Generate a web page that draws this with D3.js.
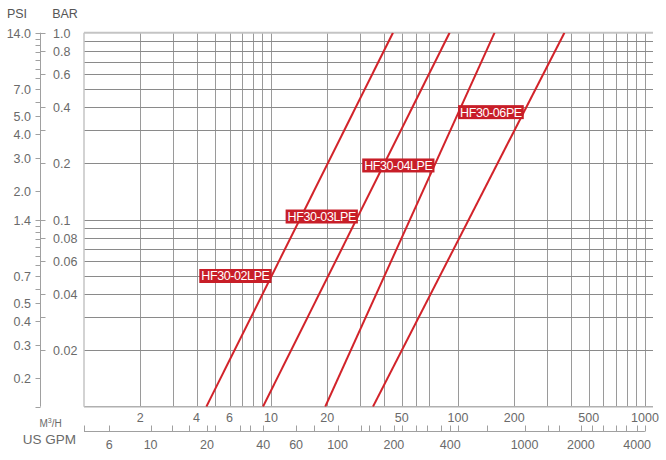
<!DOCTYPE html>
<html><head><meta charset="utf-8">
<script src="https://cdn.jsdelivr.net/npm/d3@7"></script>
<style>body{margin:0;background:#fff}svg{display:block}text{font-family:"Liberation Sans",Arial,sans-serif}</style>
</head><body>
<svg id="c" width="666" height="460"></svg>
<script>
// ---- data ----
const models = ["HF30-02LPE", "HF30-03LPE", "HF30-04LPE", "HF30-06PE"];
const flowAtLowBar = [4.51, 9.06, 19.5, 35.1];     // m3/h at 0.01 bar
const flowAtHighBar = [44.9, 90.2, 157, 371];      // m3/h at 1.0 bar
const lowBar = 0.01, highBar = 1.0;
const labelBar = [0.05, 0.104, 0.195, 0.376];      // pressure where label sits
const m3hGrid = [2,3,4,5,6,7,8,9,10,20,30,40,50,60,70,100,200,300,400,500,600,700,800,900,1000];
const m3hLabels = [2,4,6,10,20,50,100,200,500,1000];
const barGrid = [0.02,0.03,0.04,0.05,0.06,0.07,0.08,0.09,0.1,0.2,0.3,0.4,0.5,0.6,0.7,0.8,0.9];
const barLabels = [1.0,0.8,0.6,0.4,0.2,0.1,0.08,0.06,0.04,0.02];
const barLabelText = ["1.0","0.8","0.6","0.4","0.2","0.1","0.08","0.06","0.04","0.02"];
const barMinor = [0.3,0.03];
const psiLabels = [14,7,5,4,3,2,1.4,0.7,0.5,0.4,0.3,0.2];
const psiLabelText = ["14.0","7.0","5.0","4.0","3.0","2.0","1.4","0.7","0.5","0.4","0.3","0.2"];
const psiMinor = [13,12,11,10,9,8,6,1.3,1.2,1.1,1.0,0.9,0.8,0.6,0.14];
const gpmLabels = [6,10,20,40,60,100,200,400,1000,2000,4000];
const gpmMinor = [4.4,13,16,22,30,34,75,133,147,169,222,261,302,356,442,626,1326,1533,2306,2633,3080,3500,4400];
const gpmPerM3h = 4.403;

// ---- scales ----
const X0 = 84, X1 = 653, Y0 = 406.7, Y1 = 32.7;
const xMax = 1104;
const x = d3.scaleLog().domain([1, xMax]).range([X0, X1]);
const y = d3.scaleLog().domain([0.01, 1]).range([Y0, Y1]);
const psi = d3.scaleLog().domain([0.14, 14]).range([Y0, Y1]);
const gpm = d3.scaleLog().domain([gpmPerM3h, gpmPerM3h * xMax]).range([X0, X1]);

const svg = d3.select("#c");
const txt = "#6a6a6a";

// grid
const g = svg.append("g");
g.selectAll(".vg").data(m3hGrid).join("line")
  .attr("x1", d => Math.round(x(d)) + 0.5).attr("x2", d => Math.round(x(d)) + 0.5)
  .attr("y1", Y1).attr("y2", Y0).attr("stroke", "#9a9a9a").attr("stroke-width", 1);
g.selectAll(".hg").data(barGrid).join("line")
  .attr("x1", X0).attr("x2", X1)
  .attr("y1", d => Math.round(y(d)) + 0.5).attr("y2", d => Math.round(y(d)) + 0.5)
  .attr("stroke", "#8a8a8a").attr("stroke-width", 1);
// borders
g.append("line").attr("x1", X0).attr("x2", X1).attr("y1", Y1).attr("y2", Y1).attr("stroke", "#c4c4c4").attr("stroke-width", 2);
g.append("line").attr("x1", X0).attr("x2", X1).attr("y1", Y0).attr("y2", Y0).attr("stroke", "#b0b0b0").attr("stroke-width", 1.5);
g.append("line").attr("x1", X0).attr("x2", X0).attr("y1", Y1).attr("y2", Y0).attr("stroke", "#c4c4c4").attr("stroke-width", 1.5);

// curves
const lineGen = d3.line().x(d => x(d[0])).y(d => y(d[1]));
svg.append("clipPath").attr("id", "pc").append("rect")
  .attr("x", X0).attr("y", Y1).attr("width", X1 - X0).attr("height", Y0 - Y1);
const red = "#d2232a";
models.forEach((m, i) => {
  const pts = [[flowAtLowBar[i], lowBar], [flowAtHighBar[i], highBar]];
  svg.append("path").attr("d", lineGen(pts)).attr("fill", "none")
    .attr("stroke", red).attr("stroke-width", 2).attr("clip-path", "url(#pc)");
});
// labels
models.forEach((m, i) => {
  const k = Math.log(labelBar[i] / lowBar) / Math.log(highBar / lowBar);
  const q = Math.exp(Math.log(flowAtLowBar[i]) + k * (Math.log(flowAtHighBar[i]) - Math.log(flowAtLowBar[i])));
  const lx = x(q), ly = y(labelBar[i]);
  const gg = svg.append("g");
  const t = gg.append("text").text(m).attr("font-size", 12.5).attr("letter-spacing", "-0.4")
    .attr("fill", "#fff").attr("dominant-baseline", "central");
  const w = t.node().getComputedTextLength();
  gg.insert("rect", "text").attr("x", lx - w - 4).attr("y", ly - 7).attr("width", w + 4).attr("height", 14).attr("fill", "#c81e28");
  t.attr("x", lx - w - 2).attr("y", ly + 0.5);
});

// left axes
const AX = 40.5;
svg.append("line").attr("x1", AX).attr("x2", AX).attr("y1", Y1).attr("y2", Y0).attr("stroke", "#a0a0a0");
svg.selectAll(".pt").data(psiLabels.concat(psiMinor)).join("line")
  .attr("x1", AX - 5).attr("x2", AX).attr("y1", d => Math.round(psi(d)) + 0.5).attr("y2", d => Math.round(psi(d)) + 0.5)
  .attr("stroke", "#a0a0a0");
svg.selectAll(".bt").data(barLabels.concat(barMinor)).join("line")
  .attr("x1", AX).attr("x2", AX + 5).attr("y1", d => Math.round(y(d)) + 0.5).attr("y2", d => Math.round(y(d)) + 0.5)
  .attr("stroke", "#a0a0a0");
svg.selectAll(".pl").data(psiLabels).join("text")
  .attr("x", 31).attr("y", d => psi(d) + 1).attr("text-anchor", "end").attr("dominant-baseline", "central")
  .attr("font-size", 12.5).attr("fill", txt).text((d, i) => psiLabelText[i]);
svg.selectAll(".bl").data(barLabels).join("text")
  .attr("x", 53).attr("y", d => y(d) + 1).attr("text-anchor", "start").attr("dominant-baseline", "central")
  .attr("font-size", 12.5).attr("fill", txt).text((d, i) => barLabelText[i]);
svg.append("text").attr("x", 17).attr("y", 14).attr("text-anchor", "middle").attr("dominant-baseline", "central")
  .attr("font-size", 12.5).attr("fill", "#555").text("PSI");
svg.append("text").attr("x", 65).attr("y", 14).attr("text-anchor", "middle").attr("dominant-baseline", "central")
  .attr("font-size", 12.5).attr("fill", "#555").text("BAR");

// bottom axes
svg.selectAll(".ml").data(m3hLabels).join("text")
  .attr("x", d => x(d)).attr("y", 418).attr("text-anchor", "middle").attr("dominant-baseline", "central")
  .attr("font-size", 12.5).attr("fill", txt).text(d => d);
const GY = 431.5;
svg.append("line").attr("x1", X0).attr("x2", gpm(4400)).attr("y1", GY).attr("y2", GY).attr("stroke", "#a0a0a0");
svg.selectAll(".gt").data(gpmLabels.concat(gpmMinor)).join("line")
  .attr("x1", d => Math.round(gpm(d)) + 0.5).attr("x2", d => Math.round(gpm(d)) + 0.5)
  .attr("y1", GY - 6).attr("y2", GY).attr("stroke", "#a0a0a0");
svg.selectAll(".gl").data(gpmLabels).join("text")
  .attr("x", d => gpm(d)).attr("y", 445).attr("text-anchor", "middle").attr("dominant-baseline", "central")
  .attr("font-size", 12.5).attr("fill", txt).text(d => d);
const mh = svg.append("text").attr("x", 50.5).attr("y", 423).attr("text-anchor", "middle").attr("dominant-baseline", "central")
  .attr("font-size", 10).attr("fill", txt);
mh.append("tspan").text("M");
mh.append("tspan").attr("font-size", 7).attr("dy", -3).text("3");
mh.append("tspan").attr("dy", 3).text("/H");
svg.append("text").attr("x", 49.5).attr("y", 439).attr("text-anchor", "middle").attr("dominant-baseline", "central")
  .attr("font-size", 13.5).attr("fill", txt).text("US GPM");
</script>
</body></html>
